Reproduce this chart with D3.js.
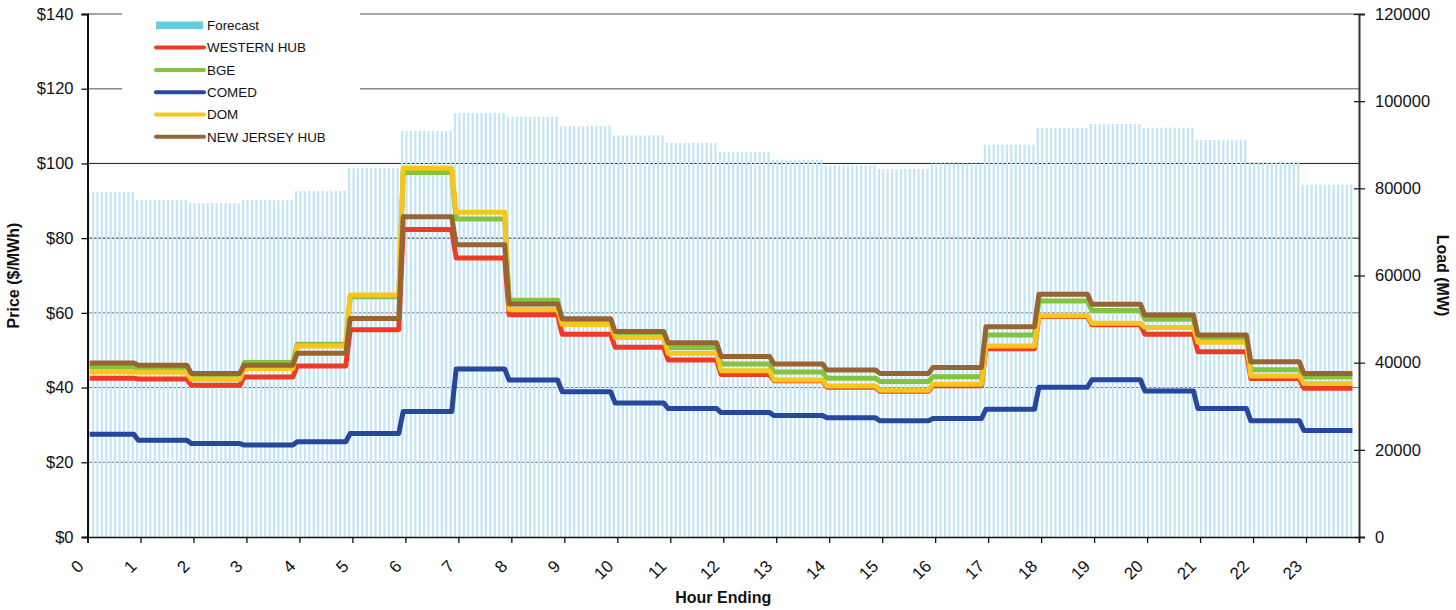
<!DOCTYPE html>
<html>
<head>
<meta charset="utf-8">
<script src="https://cdn.jsdelivr.net/npm/d3@7"></script>
<style>
  html, body { margin: 0; padding: 0; background: #fff; }
  svg { display: block; font-family: "Liberation Sans", Arial, sans-serif; }
</style>
</head>
<body>
<svg id="chart" width="1456" height="610"></svg>
<script>
// ---------- data ----------
const hourLabels = ["0","1","2","3","4","5","6","7","8","9","10","11","12","13","14","15","16","17","18","19","20","21","22","23"];
const priceTicks = [0, 20, 40, 60, 80, 100, 120, 140];
const loadTicks = [0, 20000, 40000, 60000, 80000, 100000, 120000];

const forecastLoad = [79140, 77310, 76620, 77310, 79370, 84650, 93170, 97290, 96430, 94290, 92140, 90430,
                      88290, 86570, 85290, 84430, 85710, 90000, 93860, 94760, 93910, 91080, 86030, 80820];

const westernHub = [42.5, 42.3, 40.6, 42.8, 45.8, 55.5, 82.3, 74.7, 59.5, 54.3, 50.8, 47.4,
                    43.5, 41.8, 40.1, 39.0, 40.5, 50.4, 59.0, 56.8, 54.3, 49.6, 42.4, 39.8];
const bge        = [45.5, 45.1, 43.0, 46.7, 51.6, 64.3, 97.6, 85.1, 63.4, 57.8, 54.2, 50.7,
                    46.3, 44.2, 42.5, 41.6, 42.9, 54.1, 63.2, 60.6, 58.3, 52.9, 44.8, 42.8];
const comed      = [27.5, 25.9, 25.0, 24.6, 25.5, 27.7, 33.6, 45.0, 42.0, 38.9, 35.9, 34.4,
                    33.3, 32.5, 31.9, 31.1, 31.7, 34.2, 40.1, 42.1, 39.1, 34.4, 31.1, 28.5];
const dom        = [44.2, 44.1, 42.2, 45.1, 51.1, 64.8, 98.7, 86.9, 60.9, 56.9, 53.4, 49.2,
                    44.5, 42.0, 40.4, 39.3, 40.9, 51.1, 59.2, 57.2, 56.1, 52.1, 43.1, 41.1];
const njHub      = [46.6, 46.0, 43.8, 46.0, 49.2, 58.5, 85.7, 78.2, 62.4, 58.4, 55.0, 52.0,
                    48.3, 46.3, 44.7, 43.8, 45.4, 56.3, 65.0, 62.3, 59.4, 54.1, 46.9, 43.8];

const seriesNames = ["WESTERN HUB", "BGE", "COMED", "DOM", "NEW JERSEY HUB"];
const seriesColors = ["#ef3b24", "#84c341", "#27479c", "#f7c61d", "#986532"];
const seriesValues = [westernHub, bge, comed, dom, njHub];

// ---------- layout ----------
const L = 87.5, R = 1359, T = 14, B = 537;
const intervalsPerHour = 12;
const nIntervals = 287;

const svg = d3.select("#chart");
const xI = d3.scaleLinear().domain([0, 288]).range([L, R]);
const xH = d3.scaleLinear().domain([0, 24]).range([L, R]);
const yP = d3.scaleLinear().domain([0, 140]).range([B, T]);
const yL = d3.scaleLinear().domain([0, 120000]).range([B, T]);

const intervals = d3.range(nIntervals).map(i => ({ i, h: Math.min(23, Math.floor((i + 1) / intervalsPerHour)) }));

// grid lines
const gridStyle = v => v >= 120 ? { c: "#8a8a8a", w: 1.6 } : (v >= 80 ? { c: "#1a1a1a", w: 1 } : { c: "#6e6e6e", w: 1 });
svg.append("g").selectAll("line").data(priceTicks.filter(v => v > 0)).join("line")
  .attr("x1", L).attr("x2", R)
  .attr("y1", d => yP(d)).attr("y2", d => yP(d))
  .attr("stroke", d => gridStyle(d).c).attr("stroke-width", d => gridStyle(d).w);

// forecast bars
svg.append("g").selectAll("rect").data(intervals).join("rect")
  .attr("x", d => xI(d.i))
  .attr("width", 2.2)
  .attr("y", d => yL(forecastLoad[d.h]))
  .attr("height", d => yL(0) - yL(forecastLoad[d.h]))
  .attr("fill", "#c3e5f5");

// price lines
const line = d3.line().x(d => xI(d.i + 0.5)).y(d => d.y);
seriesValues.forEach((vals, k) => {
  const pts = intervals.map(d => ({ i: d.i, y: yP(vals[d.h]) }));
  svg.append("path").datum(pts)
    .attr("d", line)
    .attr("fill", "none")
    .attr("stroke", seriesColors[k])
    .attr("stroke-width", 5)
    .attr("stroke-linejoin", "round")
    .attr("stroke-linecap", "butt");
});

// legend
const lg = svg.append("g");
lg.append("rect").attr("x", 122).attr("y", 4).attr("width", 238).attr("height", 146).attr("fill", "#fff");
const legendItems = [{ name: "Forecast", color: "#6ccbd9", bar: true }]
  .concat(seriesNames.map((n, k) => ({ name: n, color: seriesColors[k], bar: false })));
legendItems.forEach((it, k) => {
  const yy = 25.3 + k * 22.3;
  if (it.bar) {
    lg.append("rect").attr("x", 156).attr("y", yy - 3.8).attr("width", 47).attr("height", 7.6).attr("fill", it.color);
  } else {
    lg.append("line").attr("x1", 156).attr("x2", 204).attr("y1", yy).attr("y2", yy)
      .attr("stroke", it.color).attr("stroke-width", 4).attr("stroke-linecap", "round");
  }
  lg.append("text").attr("x", 207).attr("y", yy).attr("dy", "0.36em")
    .attr("font-size", 13.4).attr("fill", "#111").text(it.name);
});

// left axis
const gl = svg.append("g").attr("transform", `translate(${L},0)`)
  .call(d3.axisLeft(yP).tickValues(priceTicks).tickFormat(d => "$" + d).tickSize(6).tickPadding(8));
gl.select(".domain").attr("stroke", "#111").attr("stroke-width", 2);
gl.selectAll(".tick line").attr("stroke", "#111").attr("stroke-width", 1.3);
gl.selectAll(".tick text").attr("font-size", 16.5).attr("fill", "#111").attr("font-family", "Liberation Sans, Arial, sans-serif");

// right axis
const gr = svg.append("g").attr("transform", `translate(${R},0)`)
  .call(d3.axisRight(yL).tickValues(loadTicks).tickFormat(d3.format("d")).tickSize(6).tickPadding(10));
gr.select(".domain").attr("stroke", "#333").attr("stroke-width", 2);
gr.selectAll(".tick line").attr("x1", -5).attr("stroke", "#222").attr("stroke-width", 1.3);
gr.selectAll(".tick text").attr("font-size", 16.5).attr("fill", "#111").attr("font-family", "Liberation Sans, Arial, sans-serif");

// bottom axis
const gb = svg.append("g").attr("transform", `translate(0,${B})`)
  .call(d3.axisBottom(xH).tickValues(d3.range(25)).tickFormat(d => "").tickSize(6));
gb.select(".domain").attr("stroke", "#111").attr("stroke-width", 1.6);
gb.selectAll(".tick line").attr("stroke", "#111").attr("stroke-width", 1.3);

svg.append("g").selectAll("text").data(hourLabels).join("text")
  .attr("transform", (d, i) => `translate(${xH(i) - 7},${B + 26}) rotate(-45)`)
  .attr("text-anchor", "end").attr("dy", "0.35em")
  .attr("font-size", 17).attr("fill", "#111").text(d => d);

// titles
svg.append("text").attr("transform", `translate(19,${(T + B) / 2}) rotate(-90)`)
  .attr("text-anchor", "middle").attr("font-size", 16).attr("font-weight", "bold").attr("fill", "#111")
  .text("Price ($/MWh)");
svg.append("text").attr("transform", `translate(1437,${(T + B) / 2}) rotate(90)`)
  .attr("text-anchor", "middle").attr("font-size", 16).attr("font-weight", "bold").attr("fill", "#111")
  .text("Load (MW)");
svg.append("text").attr("x", (L + R) / 2).attr("y", 603)
  .attr("text-anchor", "middle").attr("font-size", 16).attr("font-weight", "bold").attr("fill", "#111")
  .text("Hour Ending");
</script>
</body>
</html>
